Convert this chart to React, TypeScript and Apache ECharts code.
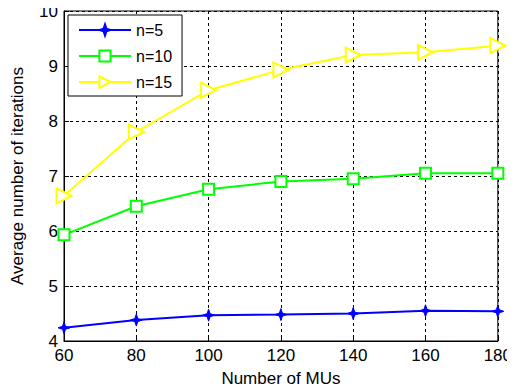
import React, { useEffect, useRef } from "react";
import * as echarts from "echarts";

const xValues = [60, 80, 100, 120, 140, 160, 180];
const n5 = [4.24, 4.38, 4.47, 4.48, 4.5, 4.55, 4.54];
const n10 = [5.93, 6.45, 6.76, 6.9, 6.95, 7.05, 7.05];
const n15 = [6.64, 7.8, 8.56, 8.93, 9.2, 9.25, 9.37];
const seriesNames = ["n=5", "n=10", "n=15"];

const starPath =
  "path://M0,-10 L2.5,-2.5 L10,0 L2.5,2.5 L0,10 L-2.5,2.5 L-10,0 L-2.5,-2.5 Z";

export default function App() {
  const ref = useRef<HTMLDivElement>(null);
  useEffect(() => {
    if (!ref.current) return;
    const chart = echarts.init(ref.current, undefined, { renderer: "svg" });
    const font = "Liberation Sans, Arial, sans-serif";
    const toPairs = (arr: number[]) => xValues.map((x, i) => [x, arr[i]]);
    chart.setOption({
      animation: false,
      backgroundColor: "#fff",
      textStyle: { fontFamily: font },
      grid: {
        left: 64,
        right: 13,
        top: 11,
        bottom: 51,
        show: true,
        borderColor: "#000",
        borderWidth: 1,
        backgroundColor: "transparent",
      },
      legend: {
        orient: "vertical",
        left: 68,
        top: 15,
        padding: [7, 10, 6, 10],
        itemWidth: 52,
        itemHeight: 14,
        itemGap: 10,
        borderColor: "#000",
        borderWidth: 1,
        backgroundColor: "#fff",
        borderRadius: 0,
        textStyle: { fontSize: 16, color: "#000", fontFamily: font },
        data: seriesNames,
      },
      xAxis: {
        type: "value",
        min: 60,
        max: 180,
        interval: 20,
        name: "Number of MUs",
        nameLocation: "middle",
        nameGap: 29,
        nameTextStyle: { fontSize: 17, color: "#000", fontFamily: font },
        axisLine: { show: true, lineStyle: { color: "#000", width: 1 } },
        axisTick: { show: true, inside: true, length: 5, lineStyle: { color: "#000" } },
        axisLabel: { fontSize: 17, color: "#000", margin: 6, fontFamily: font },
        splitLine: { show: true, lineStyle: { color: "#000", type: [3, 3], width: 1 } },
      },
      yAxis: {
        type: "value",
        min: 4,
        max: 10,
        interval: 1,
        name: "Average number of iterations",
        nameLocation: "middle",
        nameGap: 38,
        nameTextStyle: { fontSize: 17, color: "#000", fontFamily: font },
        axisLine: { show: true, lineStyle: { color: "#000", width: 1 } },
        axisTick: { show: true, inside: true, length: 5, lineStyle: { color: "#000" } },
        axisLabel: { fontSize: 17, color: "#000", margin: 6, fontFamily: font },
        splitLine: { show: true, lineStyle: { color: "#000", type: [3, 3], width: 1 } },
      },
      series: [
        {
          name: seriesNames[0],
          type: "line",
          data: toPairs(n5),
          symbol: starPath,
          symbolSize: 12,
          lineStyle: { color: "#0000FF", width: 2 },
          itemStyle: { color: "#0000FF", borderColor: "#0000FF", borderWidth: 1 },
        },
        {
          name: seriesNames[1],
          type: "line",
          data: toPairs(n10),
          symbol: "rect",
          symbolSize: 11,
          lineStyle: { color: "#00FF00", width: 2 },
          itemStyle: { color: "#fff", borderColor: "#00FF00", borderWidth: 2 },
        },
        {
          name: seriesNames[2],
          type: "line",
          data: toPairs(n15),
          symbol: "triangle",
          symbolRotate: -90,
          symbolSize: 15,
          lineStyle: { color: "#FFFF00", width: 2 },
          itemStyle: { color: "#fff", borderColor: "#FFFF00", borderWidth: 2 },
        },
      ],
    });
    return () => chart.dispose();
  }, []);
  return <div ref={ref} style={{ width: 515, height: 392, margin: -8 }} />;
}
